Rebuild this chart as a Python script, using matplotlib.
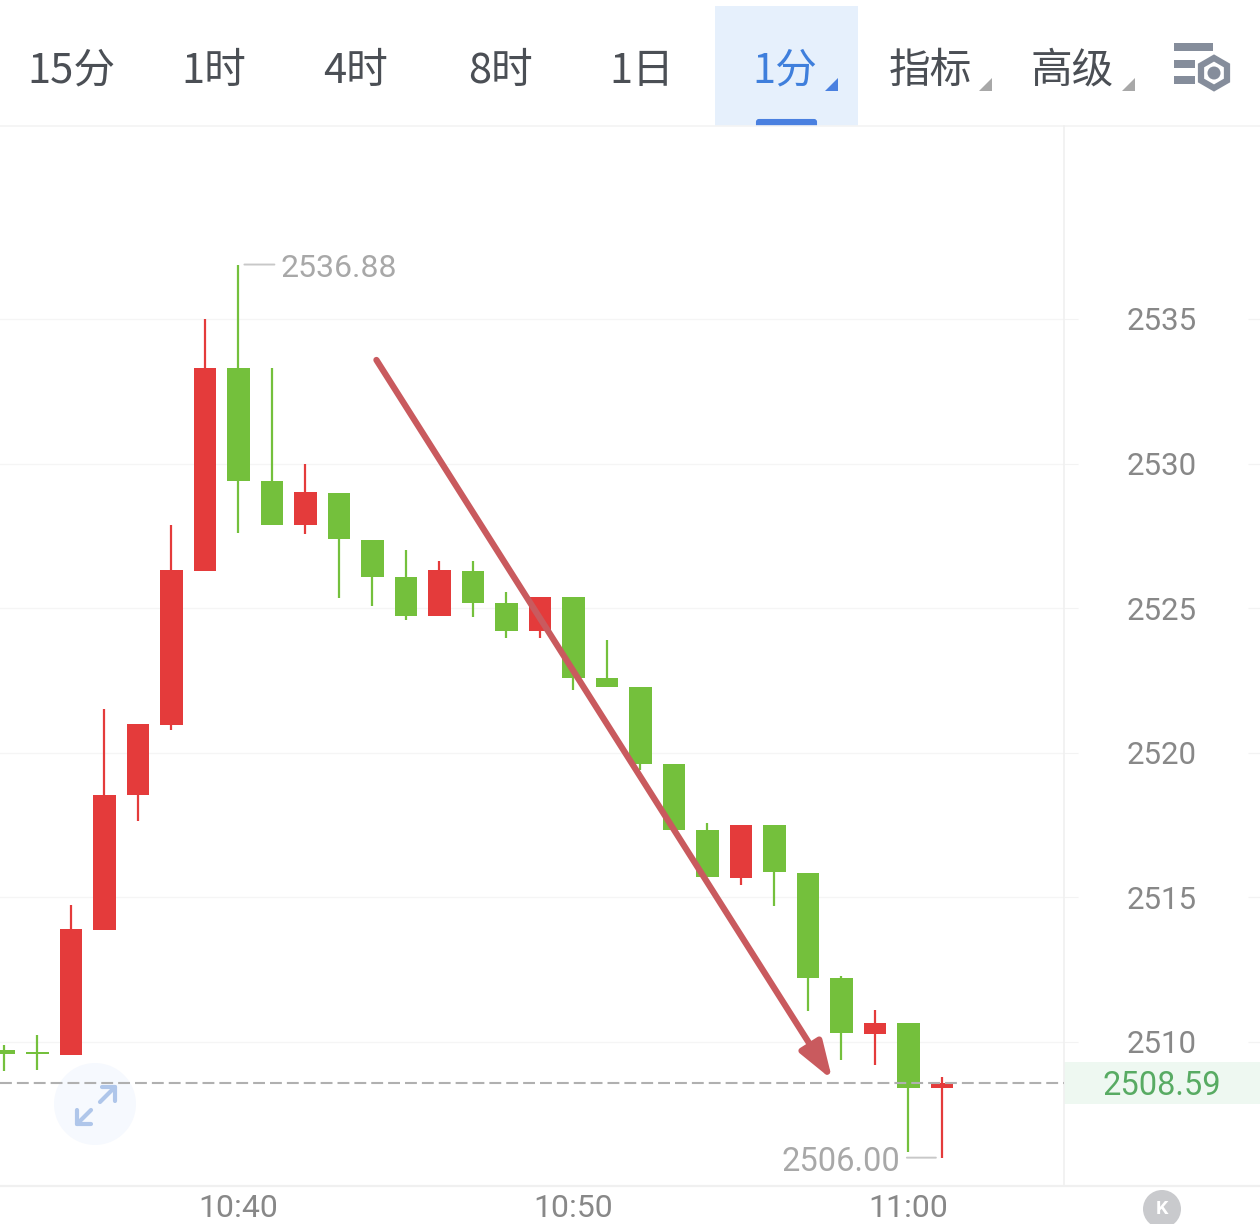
import matplotlib
matplotlib.use("Agg")
import matplotlib.pyplot as plt
from matplotlib.patches import Rectangle, Circle, Polygon, FancyBboxPatch, RegularPolygon

plt.rcParams['font.family'] = ['Noto Sans CJK SC', 'DejaVu Sans']

# ---- data -------------------------------------------------------------
minutes = list(range(-7, 22))            # minutes relative to 10:40
tops = [2509.72, 2509.67, 2513.91, 2518.54, 2521.00, 2526.32, 2533.31, 2533.31, 2529.40,
        2529.02, 2528.98, 2527.36, 2526.08, 2526.32, 2526.29, 2525.18, 2525.39, 2525.39,
        2522.59, 2522.28, 2519.61, 2517.33, 2517.50, 2517.50, 2515.84, 2512.21, 2510.66,
        2510.66, 2508.59]
bottoms = [2509.59, 2509.60, 2509.55, 2513.87, 2518.54, 2520.96, 2526.29, 2529.40, 2527.88,
           2527.88, 2527.39, 2526.08, 2524.73, 2524.73, 2525.18, 2524.21, 2524.21, 2522.59,
           2522.28, 2519.61, 2517.33, 2515.71, 2515.67, 2515.88, 2512.21, 2510.31, 2510.28,
           2508.41, 2508.41]
highs = [2509.90, 2510.24, 2514.74, 2521.51, 2521.00, 2527.88, 2535.00, 2536.88, 2533.31,
         2529.99, 2528.98, 2527.36, 2527.01, 2526.63, 2526.63, 2525.56, 2525.39, 2525.39,
         2523.90, 2522.28, 2519.61, 2517.57, 2517.50, 2517.50, 2515.84, 2512.28, 2511.11,
         2510.66, 2508.79]
lows = [2509.00, 2509.03, 2509.55, 2513.87, 2517.64, 2520.79, 2526.29, 2527.60, 2527.88,
        2527.57, 2525.35, 2525.08, 2524.59, 2524.73, 2524.70, 2523.97, 2523.97, 2522.17,
        2522.28, 2519.41, 2517.33, 2515.71, 2515.43, 2514.70, 2511.07, 2509.38, 2509.20,
        2506.20, 2506.00]
rising = [0, 0, 1, 1, 1, 1, 1, 0, 0, 1, 0, 0, 0, 1, 0, 0, 1, 0, 0, 0, 0, 0, 1, 0, 0, 0, 1, 0, 1]

price_ticks = [2510, 2515, 2520, 2525, 2530, 2535]
time_ticks = [0, 10, 20]
time_labels = ['10:40', '10:50', '11:00']
tabs = ['15分', '1时', '4时', '8时', '1日', '1分', '指标', '高级']
tab_centers = [71, 214, 356, 500, 642, 785, 930, 1072]
last_price = 2508.59
high_mark = 2536.88
low_mark = 2506.00

RED, GREEN = '#e43b3b', '#74c03c'
W, H = 1260, 1224
NUM_FONT = ['Roboto', 'DejaVu Sans']

fig = plt.figure(figsize=(W / 100, H / 100), dpi=100, facecolor='white')

# ---- screen furniture (pixel coordinates) ------------------------------
bg = fig.add_axes([0, 0, 1, 1], zorder=0)
bg.set_xlim(0, W)
bg.set_ylim(H, 0)
bg.axis('off')

bg.add_patch(Rectangle((715, 6), 143, 120, fc='#e6f0fc', ec='none'))
bg.add_patch(FancyBboxPatch((757, 120), 59, 8, boxstyle='round,pad=0,rounding_size=2',
                            fc='#4a80e0', ec='#4a80e0', lw=1.5))
bg.add_patch(Rectangle((715, 126), 143, 6, fc='white', ec='none', zorder=3))
bg.hlines(126, 0, W, color='#f4f4f4', lw=1.2, zorder=4)
bg.hlines(1186, 0, W, color='#f0f0f0', lw=1.6)
bg.add_patch(Rectangle((1064, 1062), W - 1064, 42, fc='#eef8f1', ec='none'))

for t, cx in zip(tabs, tab_centers):
    col = '#3f7fdc' if t == '1分' else '#4b4f55'
    bg.text(cx, 71, t, ha='center', va='center', fontsize=30, color=col, fontweight='light')

for x0, col in [(825, '#4a80e0'), (979, '#a8a8a8'), (1122, '#a8a8a8')]:
    bg.add_patch(Polygon([(x0, 91), (x0 + 13, 91), (x0 + 13, 78)], fc=col, ec='none'))

# settings icon
ICON = '#858d9b'
bg.add_patch(Rectangle((1174, 43), 39, 8, fc=ICON, ec='none'))
bg.add_patch(Rectangle((1174, 60), 21, 8, fc=ICON, ec='none'))
bg.add_patch(Rectangle((1174, 76), 21, 8, fc=ICON, ec='none'))
bg.add_patch(RegularPolygon((1214, 73), 6, radius=15, fc='white', ec=ICON, lw=4.5))
bg.add_patch(Circle((1214, 73), 6.5, fc=ICON, ec='none'))

# expand button
bg.add_patch(Circle((95, 1104), 41, fc='#f6f9fe', ec='none'))
ARW = '#afc6ea'
bg.plot([100, 115], [1102, 1087], color=ARW, lw=3, solid_capstyle='round')
bg.plot([102, 115, 115], [1087, 1087, 1101], color=ARW, lw=3, solid_capstyle='round')
bg.plot([77, 91], [1124, 1110], color=ARW, lw=3, solid_capstyle='round')
bg.plot([77, 77, 91], [1110, 1124, 1124], color=ARW, lw=3, solid_capstyle='round')

# K button
bg.add_patch(Circle((1162, 1209), 19, fc='#c9cacd', ec='none'))
bg.text(1162, 1209, 'K', ha='center', va='center', fontsize=14, color='white',
        fontweight='bold', family=NUM_FONT)

# ---- chart --------------------------------------------------------------
ax = fig.add_axes([0, (H - 1186) / H, 1064 / W, 1060 / H], zorder=1)
ax.patch.set_alpha(0)
ax.set_xlim(-238.4 / 33.5, 825.6 / 33.5)
ax.set_ylim(2505.02, 2541.67)
for s in ['top', 'left', 'bottom']:
    ax.spines[s].set_visible(False)
ax.spines['right'].set_color('#f0f0f0')
ax.spines['right'].set_linewidth(1.2)

ax.yaxis.tick_right()
ax.set_yticks(price_ticks)
ax.set_yticklabels([str(v) for v in price_ticks], family=NUM_FONT,
                   fontsize=22.5, color='#888888', ha='center', va='center_baseline')
ax.tick_params(axis='y', length=10, width=0.8, color='#f3f3f3', pad=60.5)
ax.grid(axis='y', color='#f5f5f5', lw=0.9)
ax.set_axisbelow(True)
ax.hlines(price_ticks, 1248 / 1064, 1260 / 1064, color='#f3f3f3', lw=0.9,
          transform=ax.get_yaxis_transform(), clip_on=False)

ax.set_xticks(time_ticks)
ax.set_xticklabels(time_labels, family=NUM_FONT, fontsize=23, color='#888888')
ax.tick_params(axis='x', length=0, pad=6)

colors = [RED if r else GREEN for r in rising]
ax.vlines(minutes, lows, highs, color=colors, lw=1.6, zorder=2)
ax.bar(minutes, [t - b for t, b in zip(tops, bottoms)], bottom=bottoms, width=0.68,
       color=colors, linewidth=0, zorder=3)

# last price
ax.axhline(last_price, color='#b0b0b0', lw=1.5, dashes=(5.7, 2.4), zorder=4)
ax.text(1162 / 1064, last_price, f'{last_price:.2f}', transform=ax.get_yaxis_transform(),
        ha='center', va='center_baseline', fontsize=23.5, color='#58ab63',
        family=NUM_FONT, clip_on=False)

# high and low marks
ax.annotate(f'{high_mark:.2f}', xy=(0, high_mark), xytext=(281 - 239, -1), xycoords='data',
            textcoords='offset pixels', ha='left', va='center_baseline', fontsize=23,
            color='#a8a8a8', family=NUM_FONT)
ax.annotate('', xy=(6 / 33.5, high_mark), xytext=(36 / 33.5, high_mark),
            arrowprops=dict(arrowstyle='-', color='#c8c8c8', lw=1.4, shrinkA=0, shrinkB=0))
ax.annotate(f'{low_mark:.2f}', xy=(21, low_mark), xytext=(900 - 942, -1), xycoords='data',
            textcoords='offset pixels', ha='right', va='center_baseline', fontsize=23.5,
            color='#a8a8a8', family=NUM_FONT)
ax.annotate('', xy=(21 - 6 / 33.5, low_mark), xytext=(21 - 35 / 33.5, low_mark),
            arrowprops=dict(arrowstyle='-', color='#c8c8c8', lw=1.4, shrinkA=0, shrinkB=0))

# hand-drawn style arrow
ax.annotate('', xy=(17.73, 2508.69), xytext=(4.12, 2533.58),
            arrowprops=dict(arrowstyle='-|>,head_length=1.25,head_width=0.42', color='#c95a5e',
                            lw=4.5, shrinkA=0, shrinkB=0, capstyle='round',
                            mutation_scale=18), zorder=6)

fig.savefig('out.png', dpi=100)
